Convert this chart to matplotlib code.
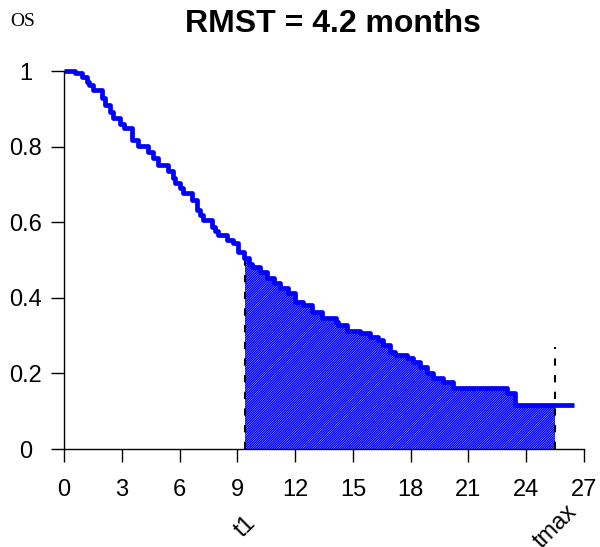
import numpy as np
import matplotlib.pyplot as plt
from matplotlib.transforms import blended_transform_factory

plt.rcParams['font.family'] = ['Liberation Sans', 'DejaVu Sans']
plt.rcParams['hatch.linewidth'] = 1.0

# Kaplan-Meier steps (months, survival)
times = [0, 0.57, 0.92, 1.18, 1.3, 1.5, 1.96, 2.13, 2.39, 2.56,
         2.91, 3.1, 3.51, 3.86, 4.38, 4.64, 4.9, 5.42, 5.68, 5.76,
         6.0, 6.2, 6.63, 6.89, 7.05, 7.23, 7.67, 7.85, 8.01, 8.45,
         8.79, 9.05, 9.35, 9.6, 9.74, 10.18, 10.53, 10.9, 11.21, 11.65,
         11.99, 12.42, 12.86, 13.38, 14.1, 14.24, 14.68, 15.37, 15.89, 16.32,
         16.58, 16.93, 17.19, 17.79, 18.13, 18.48, 18.83, 19.17, 19.69, 20.21,
         23.0, 23.4, 26.5]
surv = [1.0, 0.994, 0.985, 0.972, 0.962, 0.95, 0.928, 0.91, 0.892, 0.875,
        0.861, 0.848, 0.817, 0.802, 0.787, 0.769, 0.751, 0.735, 0.716, 0.703,
        0.69, 0.676, 0.659, 0.632, 0.62, 0.606, 0.588, 0.578, 0.566, 0.553,
        0.544, 0.522, 0.505, 0.49, 0.482, 0.469, 0.452, 0.438, 0.425, 0.412,
        0.39, 0.381, 0.363, 0.346, 0.335, 0.328, 0.312, 0.306, 0.297, 0.288,
        0.275, 0.257, 0.249, 0.24, 0.231, 0.218, 0.2, 0.187, 0.178, 0.162,
        0.148, 0.117, 0.117]

t1 = 9.4
tmax = 25.5
tmax_line_top = 0.27
rmst_text = 'RMST = 4.2 months'
xticks = list(range(0, 28, 3))
yticks = [0, 0.2, 0.4, 0.6, 0.8, 1]
ytick_labels = ['0', '0.2', '0.4', '0.6', '0.8', '1']

times = np.array(times)
surv = np.array(surv)


def surv_at(t):
    return surv[np.searchsorted(times, t, side='right') - 1]


fig = plt.figure(figsize=(6, 5.47), dpi=100)
ax = fig.add_axes([64 / 600, 1 - 449 / 547, 520 / 600, 378 / 547])

# shaded area between t1 and tmax
mask = (times > t1) & (times < tmax)
xs = np.concatenate([[t1], times[mask], [tmax]])
ys = np.concatenate([[surv_at(t1)], surv[mask], [surv_at(tmax)]])
ax.fill_between(xs, ys, 0, step='post', facecolor='none', edgecolor='blue',
                hatch='/' * 14, linewidth=0)

ax.plot([t1, t1], [0, surv_at(t1)], color='black', lw=1.5, dashes=(3.5, 4.5))
ax.plot([tmax, tmax], [0, tmax_line_top], color='black', lw=1.5, dashes=(3.5, 4.5))

ax.plot(times, surv, drawstyle='steps-post', color='blue', lw=3.4, clip_on=False,
        solid_joinstyle='round', solid_capstyle='butt')

ax.set_xlim(0, 27)
ax.set_ylim(0, 1)
for side in ['top', 'right']:
    ax.spines[side].set_visible(False)
for side in ['left', 'bottom']:
    ax.spines[side].set_linewidth(1)

ax.set_xticks(xticks)
ax.set_yticks(yticks)
ax.set_yticklabels([])
ax.tick_params(axis='both', direction='out', length=9.5, width=1, labelsize=17)
ax.tick_params(axis='x', pad=12)

# y labels are centred in R style
ytrans = blended_transform_factory(ax.transAxes, ax.transData)
for v, lab in zip(yticks, ytick_labels):
    ax.text((26 - 64) / 520, v, lab, transform=ytrans, ha='center',
            va='center_baseline', fontsize=17, clip_on=False)

# rotated marks for t1 and tmax below the axis
ax.text(t1, -0.206, 't1', rotation=45, ha='center', va='center',
        rotation_mode='anchor', fontsize=17, clip_on=False)
ax.text(tmax, -0.206, 'tmax', rotation=45, ha='center', va='center',
        rotation_mode='anchor', fontsize=17, clip_on=False)

fig.text(333 / 600, 1 - 24 / 547, rmst_text, ha='center', va='center',
         fontsize=23, fontweight='bold')
fig.text(10 / 600, 1 - 22 / 547, 'OS', ha='left', va='center', fontsize=14,
         family='Liberation Serif')

fig.savefig('out.png', dpi=100)
